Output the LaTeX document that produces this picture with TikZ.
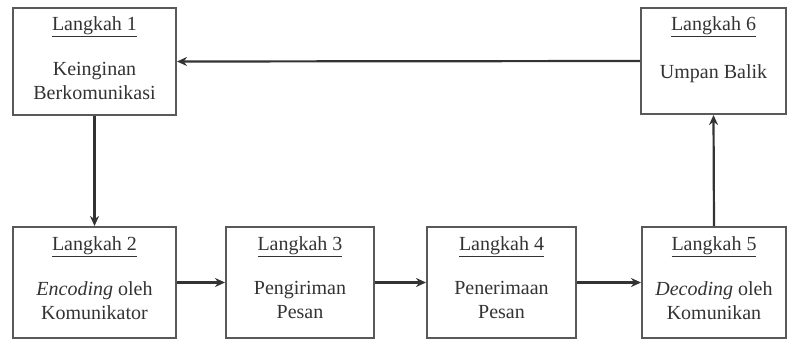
\documentclass[tikz,border=0pt]{standalone}
\usepackage{fontspec}
\setmainfont{Liberation Serif}
\usetikzlibrary{arrows.meta,calc}
\begin{document}
\begin{tikzpicture}[x=1pt,y=-1pt,
  box/.style={draw=black!65,line width=2pt,minimum height=#1,inner sep=0pt},
  title/.style={text=black!80,font=\fontsize{20}{24}\selectfont,inner sep=0pt},
  body/.style={text=black!80,font=\fontsize{20}{24}\selectfont,align=center,anchor=north,inner sep=0pt},
  arr/.style={draw=black!80,line width=2.2pt,-{Stealth[length=10pt,width=9pt]}}]
\useasboundingbox (0,0) rectangle (787,340);
\node[box=107pt,minimum width=163pt] (b1) at (94.5,61.5) {};
\node[box=106pt,minimum width=145pt] (b6) at (713.5,61) {};
\node[box=111pt,minimum width=163pt] (b2) at (94.5,282.5) {};
\node[box=111pt,minimum width=148pt] (b3) at (300,282.5) {};
\node[box=111pt,minimum width=149pt] (b4) at (501.5,282.5) {};
\node[box=111pt,minimum width=144pt] (b5) at (714,282.5) {};
\node[title] (t1) at ($(b1.north)+(0,20)$) {\underline{Langkah 1}};
\node[title] (t6) at ($(b6.north)+(0,20)$) {\underline{Langkah 6}};
\node[title] (t2) at ($(b2.north)+(0,21)$) {\underline{Langkah 2}};
\node[title] (t3) at ($(b3.north)+(0,21)$) {\underline{Langkah 3}};
\node[title] (t4) at ($(b4.north)+(0,21)$) {\underline{Langkah 4}};
\node[title] (t5) at ($(b5.north)+(0,21)$) {\underline{Langkah 5}};
\node[body] (c1) at ($(b1.north)+(0,55)$) {Keinginan\\Berkomunikasi};
\node[body] (c6) at ($(b6.north)+(0,57)$) {Umpan Balik};
\node[body] (c2) at ($(b2.north)+(0,55)$) {\textit{Encoding} oleh\\Komunikator};
\node[body] (c3) at ($(b3.north)+(0,55)$) {Pengiriman\\Pesan};
\node[body] (c4) at ($(b4.north)+(0,55)$) {Penerimaan\\Pesan};
\node[body] (c5) at ($(b5.north)+(0,55)$) {\textit{Decoding} oleh\\Komunikan};
\draw[arr] (b6.west) -- (b1.east);
\draw[arr] (b1.south) -- (b2.north);
\draw[arr] (b2.east) -- (b3.west);
\draw[arr] (b3.east) -- (b4.west);
\draw[arr] (b4.east) -- (b5.west);
\draw[arr] (b5.north) -- (b6.south);
\end{tikzpicture}
\end{document}
